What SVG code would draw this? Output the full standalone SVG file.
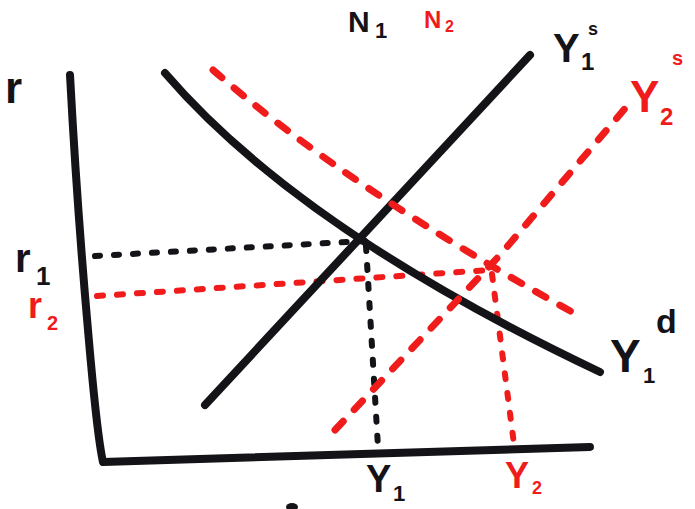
<svg xmlns="http://www.w3.org/2000/svg" width="695" height="509" viewBox="0 0 695 509">
<style>
.blk{fill:none;stroke:#141418;stroke-width:8;stroke-linecap:round;stroke-linejoin:round}
.bdot{fill:none;stroke:#141418;stroke-width:6;stroke-linecap:round;stroke-dasharray:5 14}
.rdash{fill:none;stroke:#f01c1c;stroke-width:7;stroke-linecap:round;stroke-dasharray:12 16}
.rdot{fill:none;stroke:#f01c1c;stroke-width:6;stroke-linecap:round;stroke-dasharray:6 14}
.lb{font-family:"Liberation Sans",Arial,sans-serif;font-weight:bold;fill:#141418}
.lr{font-family:"Liberation Sans",Arial,sans-serif;font-weight:bold;fill:#f01c1c}
</style>
<rect width="695" height="509" fill="#ffffff"/>
<g id="axes">
<path class="blk" d="M70,75 C74,150 80,240 88,330 C94,400 98,440 103,462 L590,447"/>
</g>
<g id="connectors">
<path class="bdot" d="M95,256 L365,241"/>
<path class="bdot" d="M366,246 L378,447"/>
<path class="rdot" d="M97,296 L490,270"/>
<path class="rdot" d="M492,274 L515,452"/>
</g>
<g id="curve-Y1d">
<path class="blk" d="M165,73 Q300,230 600,372"/>
</g>
<g id="curve-Y1s">
<path class="blk" d="M205,405 L530,55"/>
</g>
<g id="curve-Y2d">
<path class="rdash" d="M213,70 Q350,190 583,318"/>
</g>
<g id="curve-Y2s">
<path class="rdash" d="M335,430 L500,255 L628,105"/>
</g>
<g id="labels">
<text class="lb" x="348" y="32" font-size="30">N</text>
<text class="lb" x="375" y="38" font-size="22">1</text>
<text class="lr" x="424" y="28" font-size="24">N</text>
<text class="lr" x="445" y="32" font-size="16">2</text>
<text class="lb" x="553" y="62" font-size="40">Y</text>
<text class="lb" x="581" y="70" font-size="24">1</text>
<text class="lb" x="588" y="35" font-size="18">s</text>
<text class="lr" x="630" y="112" font-size="44">Y</text>
<text class="lr" x="660" y="125" font-size="24">2</text>
<text class="lr" x="672" y="65" font-size="20">s</text>
<text class="lb" x="5" y="103" font-size="44">r</text>
<text class="lb" x="15" y="272" font-size="40">r</text>
<text class="lb" x="36" y="285" font-size="26">1</text>
<text class="lr" x="28" y="318" font-size="36">r</text>
<text class="lr" x="47" y="330" font-size="20">2</text>
<text class="lb" x="610" y="372" font-size="46">Y</text>
<text class="lb" x="643" y="383" font-size="22">1</text>
<text class="lb" x="656" y="333" font-size="34">d</text>
<text class="lb" x="366" y="492" font-size="38">Y</text>
<text class="lb" x="393" y="501" font-size="22">1</text>
<text class="lr" x="505" y="488" font-size="36">Y</text>
<text class="lr" x="532" y="494" font-size="18">2</text>
</g>
<ellipse cx="292" cy="507" rx="6" ry="4" fill="#141418"/>
</svg>
